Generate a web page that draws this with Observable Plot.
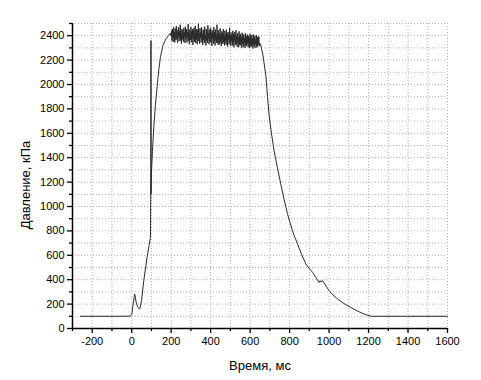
<!DOCTYPE html>
<html>
<head>
<meta charset="utf-8">
<script src="https://cdn.jsdelivr.net/npm/d3@7"></script>
<script src="https://cdn.jsdelivr.net/npm/@observablehq/plot@0.6"></script>
<style>
  html, body { margin: 0; padding: 0; background: #fff; }
  #chart svg { display: block; }
</style>
</head>
<body>
<div id="chart"></div>
<script>
// Rise phase (time, ms / pressure, kPa)
const riseT = [-260, -100, -7, 0, 8, 15, 22, 30, 41, 50, 61, 78, 88, 95, 96, 97, 97.5, 98, 99, 105, 112, 120, 129, 137, 146, 158, 171, 185, 196];
const riseP = [100, 100, 101, 115, 210, 283, 220, 175, 159, 230, 392, 584, 680, 748, 1000, 1250, 2360, 1100, 1242, 1450, 1653, 1830, 1982, 2120, 2229, 2320, 2366, 2400, 2421];

// Plateau (noisy), ms
const plateauT = [
  200,202,204,206,208,210,212,214,216,218,220,222,224,226,228,
  230,232,234,236,238,240,242,244,246,248,250,252,254,256,258,
  260,262,264,266,268,270,272,274,276,278,280,282,284,286,288,
  290,292,294,296,298,300,302,304,306,308,310,312,314,316,318,
  320,322,324,326,328,330,332,334,336,338,340,342,344,346,348,
  350,352,354,356,358,360,362,364,366,368,370,372,374,376,378,
  380,382,384,386,388,390,392,394,396,398,400,402,404,406,408,
  410,412,414,416,418,420,422,424,426,428,430,432,434,436,438,
  440,442,444,446,448,450,452,454,456,458,460,462,464,466,468,
  470,472,474,476,478,480,482,484,486,488,490,492,494,496,498,
  500,502,504,506,508,510,512,514,516,518,520,522,524,526,528,
  530,532,534,536,538,540,542,544,546,548,550,552,554,556,558,
  560,562,564,566,568,570,572,574,576,578,580,582,584,586,588,
  590,592,594,596,598,600,602,604,606,608,610,612,614,616,618,
  620,622,624,626,628,630,632,634,636,638,640,642,644,646,648
];
// kPa
const plateauP = [
  2395,2440,2360,2455,2410,2350,2470,2385,2430,2345,2460,2400,2365,2480,2375,
  2420,2340,2450,2395,2470,2355,2435,2380,2490,2360,2415,2335,2455,2405,2370,
  2445,2350,2465,2390,2425,2340,2475,2370,2410,2455,2345,2430,2385,2495,2360,
  2420,2330,2450,2400,2365,2470,2345,2435,2390,2455,2325,2440,2375,2465,2350,
  2410,2480,2340,2425,2370,2455,2330,2445,2395,2500,2355,2420,2335,2460,2380,
  2430,2345,2470,2390,2415,2325,2450,2365,2440,2340,2475,2385,2405,2320,2455,
  2360,2435,2340,2485,2375,2420,2330,2450,2395,2345,2465,2350,2425,2315,2445,
  2380,2410,2335,2470,2355,2430,2320,2450,2370,2405,2340,2490,2345,2420,2325,
  2445,2365,2415,2330,2460,2350,2400,2315,2435,2375,2420,2335,2455,2345,2395,
  2320,2440,2360,2410,2325,2450,2340,2415,2310,2430,2370,2400,2330,2465,2345,
  2405,2315,2425,2355,2395,2320,2440,2340,2410,2305,2430,2360,2390,2325,2445,
  2335,2400,2310,2420,2350,2390,2305,2435,2330,2405,2320,2415,2345,2385,2300,
  2425,2335,2395,2310,2410,2345,2380,2300,2420,2325,2400,2315,2390,2335,2410,
  2305,2395,2340,2385,2300,2415,2320,2390,2310,2405,2330,2375,2295,2410,2325,
  2385,2305,2400,2335,2370,2300,2405,2320,2390,2310,2380,2330,2395,2315,2340
];

// Fall phase
const fallT = [653, 658, 665, 672, 680, 688, 696, 708, 721, 738, 755, 772, 789, 800, 814, 826, 840, 860, 882, 900, 916, 932, 949, 955, 960, 966, 972, 978, 990, 1000, 1020, 1043, 1075, 1110, 1145, 1178, 1208, 1220, 1400, 1600];
const fallP = [2330, 2290, 2240, 2160, 2070, 1900, 1750, 1600, 1461, 1320, 1187, 1060, 941, 880, 803, 750, 694, 610, 530, 490, 461, 420, 378, 392, 380, 392, 378, 365, 335, 310, 275, 242, 205, 173, 142, 118, 102, 100, 100, 100];

// Axis ticks
const xTicks = [-200, 0, 200, 400, 600, 800, 1000, 1200, 1400, 1600];
const xMinor = [-300, -100, 100, 300, 500, 700, 900, 1100, 1300, 1500];
const yTicks = [0, 200, 400, 600, 800, 1000, 1200, 1400, 1600, 1800, 2000, 2200, 2400];
const yMinor = [100, 300, 500, 700, 900, 1100, 1300, 1500, 1700, 1900, 2100, 2300, 2500];
const xGrid = [-300, -200, -100, 0, 100, 200, 300, 400, 500, 600, 700, 800, 900, 1000, 1100, 1200, 1300, 1400, 1500, 1600];
const yGrid = [100, 200, 300, 400, 500, 600, 700, 800, 900, 1000, 1100, 1200, 1300, 1400, 1500, 1600, 1700, 1800, 1900, 2000, 2100, 2200, 2300, 2400, 2500];

const xLabel = "Время, мс";
const yLabel = "Давление, кПа";

const times = [...riseT, ...plateauT, ...fallT];
const pressures = [...riseP, ...plateauP, ...fallP];
const data = times.map((t, i) => ({t, p: pressures[i]}));

const fmt = d => String(d);

const chart = Plot.plot({
  width: 481,
  height: 380,
  marginLeft: 72,
  marginRight: 34,
  marginTop: 23,
  marginBottom: 52,
  style: {fontFamily: "'Liberation Sans', Arial, sans-serif", fontSize: "11px", color: "#000", background: "#fff"},
  x: {domain: [-300, 1600]},
  y: {domain: [0, 2500]},
  marks: [
    Plot.gridX(xGrid, {stroke: "#b0b0b0", strokeOpacity: 1, strokeDasharray: "1,2"}),
    Plot.gridY(yGrid, {stroke: "#b0b0b0", strokeOpacity: 1, strokeDasharray: "1,2"}),
    Plot.axisX({ticks: xTicks, tickSize: 5, tickPadding: 4, tickFormat: fmt, label: null, fontSize: 11, strokeWidth: 1.3}),
    Plot.axisX({ticks: xMinor, tickSize: 3, tickFormat: () => "", label: null, strokeWidth: 1.3}),
    Plot.axisY({ticks: yTicks, tickSize: 5, tickPadding: 3, tickFormat: fmt, label: null, fontSize: 11, strokeWidth: 1.3}),
    Plot.axisY({ticks: yMinor, tickSize: 3, tickFormat: () => "", label: null, strokeWidth: 1.3}),
    Plot.ruleY([0], {stroke: "#000", strokeWidth: 1.5}),
    Plot.ruleX([-300], {stroke: "#000", strokeWidth: 1.5}),
    Plot.lineY(data, {x: "t", y: "p", stroke: "#2a2a2a", strokeWidth: 1}),
    Plot.text([xLabel], {frameAnchor: "bottom", dy: 41, fontSize: 13, fill: "#000"}),
    Plot.text([yLabel], {frameAnchor: "left", textAnchor: "middle", dx: -47, dy: 9, rotate: -90, fontSize: 13, fill: "#000"})
  ]
});
document.getElementById("chart").appendChild(chart);
</script>
</body>
</html>
